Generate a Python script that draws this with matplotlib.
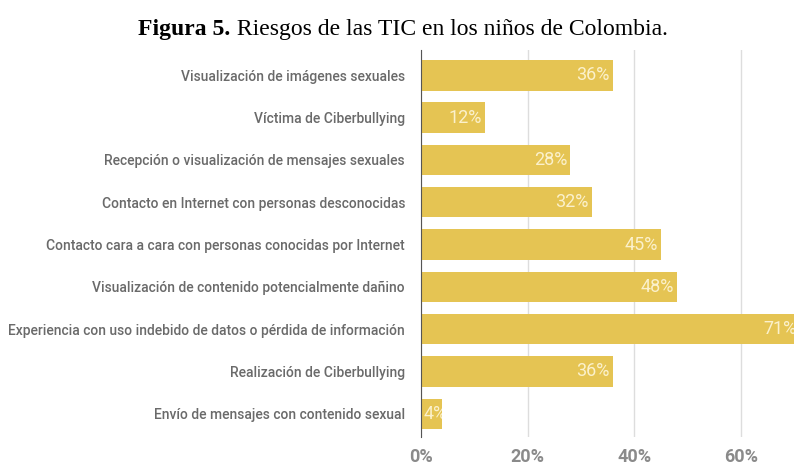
import matplotlib.pyplot as plt

categorias = [
    'Visualización de imágenes sexuales',
    'Víctima de Ciberbullying',
    'Recepción o visualización de mensajes sexuales',
    'Contacto en Internet con personas desconocidas',
    'Contacto cara a cara con personas conocidas por Internet',
    'Visualización de contenido potencialmente dañino',
    'Experiencia con uso indebido de datos o pérdida de información',
    'Realización de Ciberbullying',
    'Envío de mensajes con contenido sexual',
]
valores = [36, 12, 28, 32, 45, 48, 71, 36, 4]
ticks = [0, 20, 40, 60]
tick_labels = ['0%', '20%', '40%', '60%']

W, H = 794, 466
fig = plt.figure(figsize=(W / 100, H / 100), dpi=100)
ax = fig.add_axes([421 / W, 1 - 437 / H, (794 - 421) / W, (437 - 50) / H])
renderer = fig.canvas.get_renderer()

# the original font is a condensed face; size the labels so the longest one fits
probe = fig.text(0, 0, max(categorias, key=len), family='Roboto', fontsize=10)
lab_size = 10 * 395 / probe.get_window_extent(renderer).width
probe.remove()

pos = list(range(len(categorias)))
bars = ax.barh(pos, valores, height=0.72, color='#E5C453', zorder=2)
ax.set_ylim(len(categorias) - 0.45, -0.6)
ax.set_xlim(0, 70)

for b, p, v in zip(bars, pos, valores):
    if v < 8:
        t = ax.text(0.5, p, f'{v}%', ha='left', va='center')
    else:
        t = ax.text(v - 0.6, p, f'{v}%', ha='right', va='center')
    t.set(color='#FBF1CC', fontsize=13, family='Roboto', zorder=3, clip_on=True)
    t.set_clip_path(b)

ax.set_xticks(ticks)
ax.set_xticklabels(tick_labels, family='Roboto', fontsize=13, color='#8A8A8A',
                   fontweight='bold')
ax.set_yticks(pos)
ax.set_yticklabels(categorias, family='Roboto', fontsize=lab_size, color='#6A6A6A',
                   fontweight='medium')
ax.tick_params(axis='x', length=0, pad=8)
ax.tick_params(axis='y', length=0, pad=11.5)
ax.grid(axis='x', color='#DDDDDD', linewidth=1, zorder=0)
for s in ['top', 'right', 'bottom']:
    ax.spines[s].set_visible(False)
ax.spines['left'].set_color('#555555')
ax.spines['left'].set_zorder(3)

# title: bold "Figura 5." followed by regular text, centred as a whole
tsize = 17
t1 = fig.text(0, 1 - 30 / H, 'Figura 5.', fontweight='bold', va='center',
              fontsize=tsize, family='Liberation Serif')
t2 = fig.text(0, 1 - 30 / H, ' Riesgos de las TIC en los niños de Colombia.',
              va='center', fontsize=tsize, family='Liberation Serif')
w1 = t1.get_window_extent(renderer).width
w2 = t2.get_window_extent(renderer).width
x0 = (403 - (w1 + w2) / 2) / W
t1.set_x(x0)
t2.set_x(x0 + w1 / W)

fig.savefig('out.png', dpi=100)
